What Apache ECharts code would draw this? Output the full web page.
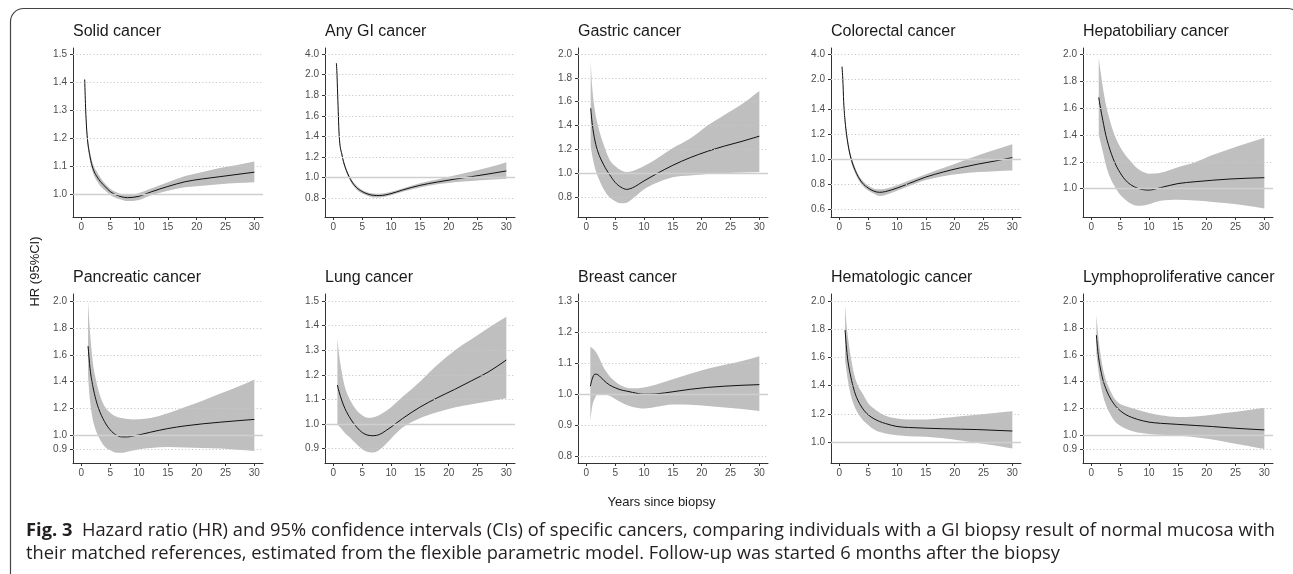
<!DOCTYPE html>
<html><head><meta charset="utf-8">
<script src="https://cdn.jsdelivr.net/npm/echarts@6/dist/echarts.min.js"></script>
<style>html,body{margin:0;padding:0;background:#fff;}#c{width:1293px;height:574px;}</style>
</head><body><div id="c"></div>
<script>
// ---------- data ----------
const xTicks = [0, 5, 10, 15, 20, 25, 30];

const solidT  = [0.58,0.75,1,1.5,2,3,4,5,6,7,8,10,12,15,18,21,24,27,30];
const solidHR = [1.41,1.30,1.21,1.135,1.093,1.054,1.03,1.01,0.998,0.991,0.988,0.993,1.008,1.028,1.045,1.055,1.063,1.071,1.079];
const solidLo = [1.40,1.29,1.195,1.12,1.078,1.038,1.015,0.998,0.987,0.981,0.976,0.98,0.996,1.013,1.025,1.031,1.036,1.04,1.043];
const solidHi = [1.42,1.31,1.225,1.15,1.11,1.07,1.04,1.02,1.008,1.001,0.999,1.005,1.02,1.043,1.065,1.08,1.094,1.105,1.117];
const solidTicks = [1.0,1.1,1.2,1.3,1.4,1.5];

const anyT  = [0.52,0.6,0.75,1,1.5,2,3,4,5,6,7,8,10,12,15,18,21,24,27,30];
const anyHR = [3.1,2.4,1.8,1.42,1.22,1.11,0.98,0.905,0.865,0.84,0.828,0.826,0.845,0.88,0.925,0.957,0.985,1.01,1.037,1.065];
const anyLo = [3.05,2.35,1.77,1.39,1.2,1.09,0.96,0.885,0.845,0.822,0.808,0.808,0.828,0.862,0.905,0.935,0.955,0.968,0.98,0.99];
const anyHi = [3.15,2.45,1.83,1.45,1.24,1.13,1.0,0.925,0.88,0.855,0.845,0.843,0.862,0.895,0.945,0.982,1.02,1.06,1.1,1.15];
const anyTicks = [0.8,1.0,1.2,1.4,1.6,1.8,2.0,4.0];
const anyTickPos = [0.8,1.0,1.2,1.4,1.6,1.8,2.0,2.2];

const gasT  = [0.75,1,1.5,2,3,4,5,6,7,8,10,12,15,18,21,24,27,30];
const gasHR = [1.544,1.42,1.27,1.18,1.07,0.99,0.922,0.882,0.864,0.877,0.935,0.99,1.066,1.13,1.183,1.228,1.267,1.31];
const gasLo = [1.23,1.15,1.04,0.97,0.865,0.8,0.765,0.748,0.752,0.785,0.865,0.915,0.965,0.98,0.993,1.0,1.005,1.01];
const gasHi = [1.94,1.73,1.52,1.40,1.24,1.115,1.06,1.025,1.01,1.018,1.06,1.115,1.21,1.29,1.40,1.49,1.58,1.69];
const gasTicks = [0.8,1.0,1.2,1.4,1.6,1.8,2.0];

const colT  = [0.46,0.6,0.75,1,1.5,2,3,4,5,6,7,8,10,12,15,18,21,24,27,30];
const colHR = [3.0,2.0,1.55,1.3,1.12,1.01,0.885,0.81,0.77,0.745,0.736,0.742,0.77,0.805,0.858,0.898,0.932,0.961,0.986,1.013];
const colLo = [2.95,1.95,1.52,1.27,1.095,0.985,0.862,0.79,0.75,0.725,0.707,0.715,0.748,0.785,0.835,0.865,0.885,0.898,0.905,0.91];
const colHi = [3.05,2.05,1.58,1.33,1.145,1.035,0.905,0.83,0.79,0.765,0.76,0.765,0.792,0.828,0.88,0.93,0.98,1.03,1.075,1.12];
const colTicks = [0.6,0.8,1.0,1.2,1.4,2.0,4.0];
const colTickPos = [0.6,0.8,1.0,1.2,1.4,1.638,1.84];

const hepT  = [1.28,1.5,2,2.5,3,4,5,6,7,8,9,10,12,15,18,21,24,27,30];
const hepHR = [1.678,1.62,1.505,1.40,1.32,1.20,1.118,1.06,1.025,1.004,0.993,0.99,1.008,1.038,1.052,1.063,1.072,1.078,1.082];
const hepLo = [1.40,1.36,1.27,1.18,1.11,1.02,0.955,0.915,0.886,0.874,0.876,0.885,0.91,0.918,0.912,0.902,0.89,0.873,0.854];
const hepHi = [1.97,1.9,1.75,1.63,1.54,1.40,1.31,1.245,1.195,1.15,1.124,1.112,1.118,1.16,1.197,1.25,1.295,1.338,1.379];
const hepTicks = [1.0,1.2,1.4,1.6,1.8,2.0];

const panT  = [1.16,1.5,2,2.5,3,4,5,6,7,8,9,10,12,15,18,21,24,27,30];
const panHR = [1.665,1.50,1.365,1.27,1.20,1.105,1.042,1.005,0.99,0.99,0.997,1.005,1.025,1.052,1.072,1.087,1.099,1.11,1.12];
const panLo = [1.44,1.26,1.115,1.04,0.99,0.92,0.89,0.873,0.872,0.88,0.888,0.898,0.908,0.914,0.911,0.908,0.903,0.895,0.886];
const panHi = [1.995,1.77,1.54,1.42,1.33,1.22,1.17,1.142,1.13,1.123,1.12,1.121,1.13,1.165,1.212,1.258,1.31,1.36,1.417];
const panTicks = [0.9,1.0,1.2,1.4,1.6,1.8,2.0];

const lunT  = [0.7,1,1.5,2,3,4,5,6,7,8,9,10,12,15,18,21,24,27,30];
const lunHR = [1.158,1.13,1.093,1.063,1.02,0.988,0.965,0.954,0.952,0.957,0.971,0.987,1.022,1.068,1.106,1.14,1.176,1.213,1.26];
const lunLo = [0.999,0.99,0.977,0.963,0.942,0.918,0.897,0.886,0.884,0.895,0.915,0.94,0.985,1.023,1.047,1.067,1.08,1.092,1.104];
const lunHi = [1.348,1.28,1.205,1.15,1.093,1.057,1.035,1.025,1.027,1.036,1.05,1.068,1.11,1.172,1.24,1.298,1.345,1.392,1.436];
const lunTicks = [0.9,1.0,1.1,1.2,1.3,1.4,1.5];

const brT  = [0.69,1,1.5,2,3,4,5,6,7,8,10,12,15,18,21,24,27,30];
const brHR = [1.025,1.048,1.064,1.062,1.044,1.029,1.02,1.013,1.009,1.005,0.999,1.0,1.007,1.015,1.021,1.025,1.028,1.03];
const brLo = [0.915,0.958,0.987,0.999,1.0,0.994,0.984,0.973,0.964,0.958,0.953,0.958,0.966,0.965,0.961,0.956,0.951,0.945];
const brHi = [1.152,1.148,1.139,1.125,1.085,1.058,1.04,1.027,1.02,1.018,1.021,1.03,1.047,1.065,1.081,1.094,1.106,1.122];
const brTicks = [0.8,0.9,1.0,1.1,1.2,1.3];

const hemT  = [0.99,1.25,1.5,2,2.5,3,4,5,6,7,8,10,12,15,18,21,24,27,30];
const hemHR = [1.794,1.66,1.57,1.46,1.375,1.315,1.24,1.193,1.165,1.145,1.131,1.11,1.103,1.098,1.094,1.091,1.088,1.083,1.078];
const hemLo = [1.58,1.5,1.43,1.33,1.265,1.22,1.16,1.12,1.088,1.071,1.061,1.047,1.041,1.037,1.026,1.01,0.993,0.975,0.953];
const hemHi = [1.97,1.83,1.74,1.60,1.49,1.42,1.345,1.275,1.237,1.207,1.186,1.166,1.16,1.16,1.17,1.183,1.194,1.206,1.218];
const hemTicks = [1.0,1.2,1.4,1.6,1.8,2.0];

const lyT  = [0.87,1,1.25,1.5,2,2.5,3,4,5,6,7,8,10,12,15,18,21,24,27,30];
const lyHR = [1.746,1.68,1.58,1.515,1.415,1.35,1.3,1.23,1.185,1.155,1.135,1.12,1.1,1.091,1.083,1.075,1.067,1.057,1.049,1.042];
const lyLo = [1.61,1.56,1.47,1.40,1.3,1.23,1.18,1.11,1.072,1.05,1.033,1.022,1.012,1.006,1.0,0.988,0.97,0.947,0.925,0.90];
const lyHi = [1.896,1.83,1.72,1.63,1.5,1.415,1.36,1.275,1.235,1.218,1.205,1.192,1.168,1.15,1.138,1.142,1.155,1.171,1.188,1.206];
const lyTicks = [0.9,1.0,1.2,1.4,1.6,1.8,2.0];

// ---------- panels ----------
const panels = [
  {title:'Solid cancer', t:solidT, hr:solidHR, lo:solidLo, hi:solidHi, ticks:solidTicks, pos:null, min:0.919, max:1.5225},
  {title:'Any GI cancer', t:anyT, hr:anyHR, lo:anyLo, hi:anyHi, ticks:anyTicks, pos:anyTickPos, min:0.618, max:2.258},
  {title:'Gastric cancer', t:gasT, hr:gasHR, lo:gasLo, hi:gasHi, ticks:gasTicks, pos:null, min:0.632, max:2.05},
  {title:'Colorectal cancer', t:colT, hr:colHR, lo:colLo, hi:colHi, ticks:colTicks, pos:colTickPos, min:0.539, max:1.888},
  {title:'Hepatobiliary cancer', t:hepT, hr:hepHR, lo:hepLo, hi:hepHi, ticks:hepTicks, pos:null, min:0.79, max:2.045},
  {title:'Pancreatic cancer', t:panT, hr:panHR, lo:panLo, hi:panHi, ticks:panTicks, pos:null, min:0.796, max:2.052},
  {title:'Lung cancer', t:lunT, hr:lunHR, lo:lunLo, hi:lunHi, ticks:lunTicks, pos:null, min:0.841, max:1.5285},
  {title:'Breast cancer', t:brT, hr:brHR, lo:brLo, hi:brHi, ticks:brTicks, pos:null, min:0.777, max:1.3226},
  {title:'Hematologic cancer', t:hemT, hr:hemHR, lo:hemLo, hi:hemHi, ticks:hemTicks, pos:null, min:0.851, max:2.05},
  {title:'Lymphoproliferative cancer', t:lyT, hr:lyHR, lo:lyLo, hi:lyHi, ticks:lyTicks, pos:null, min:0.796, max:2.052}
];

function makeMap(vals, pos) {
  if (!pos) return v => v;
  return v => {
    let i = 0;
    if (v <= vals[0]) i = 0;
    else if (v >= vals[vals.length - 1]) i = vals.length - 2;
    else { while (i < vals.length - 2 && v > vals[i + 1]) i++; }
    const f = (v - vals[i]) / (vals[i + 1] - vals[i]);
    return pos[i] + f * (pos[i + 1] - pos[i]);
  };
}

// monotone cubic (Fritsch-Carlson) bezier segments through pixel points
function monoSegs(p) {
  const n = p.length, m = [], tg = [];
  for (let k = 0; k < n - 1; k++) {
    const dx = p[k + 1][0] - p[k][0];
    m.push(dx === 0 ? 0 : (p[k + 1][1] - p[k][1]) / dx);
  }
  tg[0] = m[0]; tg[n - 1] = m[n - 2];
  for (let k = 1; k < n - 1; k++) tg[k] = (m[k - 1] * m[k] <= 0) ? 0 : (m[k - 1] + m[k]) / 2;
  for (let k = 0; k < n - 1; k++) {
    if (m[k] === 0) { tg[k] = 0; tg[k + 1] = 0; continue; }
    const a = tg[k] / m[k], b = tg[k + 1] / m[k], s = a * a + b * b;
    if (s > 9) { const tau = 3 / Math.sqrt(s); tg[k] = tau * a * m[k]; tg[k + 1] = tau * b * m[k]; }
  }
  const segs = [];
  for (let k = 0; k < n - 1; k++) {
    const dx = p[k + 1][0] - p[k][0];
    segs.push([p[k], [p[k][0] + dx / 3, p[k][1] + tg[k] * dx / 3], [p[k + 1][0] - dx / 3, p[k + 1][1] - tg[k + 1] * dx / 3], p[k + 1]]);
  }
  return segs;
}
const P = q => q[0].toFixed(2) + ' ' + q[1].toFixed(2);
function bandRender(params, api) {
  if (params.dataIndexInside !== 0) return null;
  const n = params.dataInsideLength, lo = [], hi = [];
  for (let k = 0; k < n; k++) {
    lo.push(api.coord([api.value(0, k), api.value(1, k)]));
    hi.push(api.coord([api.value(0, k), api.value(2, k)]));
  }
  let d = 'M' + P(lo[0]);
  monoSegs(lo).forEach(s => { d += ' C' + P(s[1]) + ' ' + P(s[2]) + ' ' + P(s[3]); });
  d += ' L' + P(hi[n - 1]);
  monoSegs(hi).reverse().forEach(s => { d += ' C' + P(s[2]) + ' ' + P(s[1]) + ' ' + P(s[0]); });
  d += ' Z';
  return {type: 'path', shape: {pathData: d}, style: {fill: '#bfbfbf', stroke: null}};
}
function lineRender(params, api) {
  if (params.dataIndexInside !== 0) return null;
  const n = params.dataInsideLength, pts = [];
  for (let k = 0; k < n; k++) pts.push(api.coord([api.value(0, k), api.value(1, k)]));
  let d = 'M' + P(pts[0]);
  monoSegs(pts).forEach(s => { d += ' C' + P(s[1]) + ' ' + P(s[2]) + ' ' + P(s[3]); });
  return {type: 'path', shape: {pathData: d}, style: {fill: null, stroke: '#111', lineWidth: 1}};
}

const colLeft = [73, 325, 578, 831, 1083];
const rowTop = [48, 294];
const gw = 190, gh = 169;
const FONT = '"Liberation Sans", Arial, sans-serif';

const grids = [], xAxes = [], yAxes = [], series = [], graphics = [];
panels.forEach((p, i) => {
  const r = Math.floor(i / 5), c = i % 5;
  const f = makeMap(p.ticks, p.pos);
  const tickPos = p.ticks.map(f);
  grids.push({left: colLeft[c], top: rowTop[r], width: gw, height: gh});
  xAxes.push({
    type: 'value', gridIndex: i, min: -1.45, max: 31.5,
    axisLine: {show: true, onZero: false, lineStyle: {color: '#333', width: 1}},
    axisTick: {show: true, customValues: xTicks, length: 3, lineStyle: {color: '#333'}},
    axisLabel: {customValues: xTicks, fontSize: 10, color: '#4d4d4d', margin: 5, fontFamily: FONT},
    splitLine: {show: false}
  });
  yAxes.push({
    type: 'value', gridIndex: i, min: p.min, max: p.max,
    axisLine: {show: true, onZero: false, lineStyle: {color: '#333', width: 1}},
    axisTick: {show: true, customValues: tickPos, length: 3, lineStyle: {color: '#333'}},
    axisLabel: {
      customValues: tickPos, fontSize: 10, color: '#4d4d4d', margin: 6, fontFamily: FONT,
      formatter: v => {
        let k = 0, best = 1e9;
        tickPos.forEach((tp, j) => { const dd = Math.abs(tp - v); if (dd < best) { best = dd; k = j; } });
        return p.ticks[k].toFixed(1);
      }
    },
    splitLine: {show: false}
  });
  const mlData = p.ticks.map((v, j) => v === 1.0
    ? {yAxis: tickPos[j], lineStyle: {color: '#cfcfcf', type: 'solid', width: 1.3}}
    : {yAxis: tickPos[j], lineStyle: {color: '#c8c8c8', type: [1.2, 2.2], width: 1}});
  series.push({
    type: 'line', xAxisIndex: i, yAxisIndex: i, z: 1, symbol: 'none',
    data: [[0, f(1.0)]], lineStyle: {opacity: 0}, silent: true,
    markLine: {silent: true, symbol: ['none', 'none'], label: {show: false}, animation: false, data: mlData}
  });
  series.push({
    type: 'custom', xAxisIndex: i, yAxisIndex: i, z: 2, silent: true, clip: true,
    renderItem: bandRender,
    encode: {x: 0, y: [1, 2]},
    data: p.t.map((t, j) => [t, f(p.lo[j]), f(p.hi[j])])
  });
  series.push({
    type: 'custom', xAxisIndex: i, yAxisIndex: i, z: 3, silent: true, clip: true,
    renderItem: lineRender,
    encode: {x: 0, y: 1},
    data: p.t.map((t, j) => [t, f(p.hr[j])])
  });
  graphics.push({
    type: 'text', x: colLeft[c], y: r === 0 ? 31.2 : 277.7, silent: true,
    style: {text: p.title, fontSize: 16, fontFamily: FONT, fill: '#1a1a1a', verticalAlign: 'middle', align: 'left'}
  });
});

// border, axis titles, caption
graphics.push({type: 'rect', silent: true, z: -10,
  shape: {x: 10.5, y: 8.5, width: 1290, height: 700, r: 13},
  style: {fill: 'none', stroke: '#454545', lineWidth: 1.2}});
graphics.push({type: 'text', x: 661.5, y: 502.5, silent: true,
  style: {text: 'Years since biopsy', fontSize: 13, fontFamily: FONT, fill: '#1a1a1a', align: 'center', verticalAlign: 'middle'}});
graphics.push({type: 'text', x: 35, y: 271.5, rotation: Math.PI / 2, silent: true,
  style: {text: 'HR (95%CI)', fontSize: 13, fontFamily: FONT, fill: '#1a1a1a', align: 'center', verticalAlign: 'middle'}});

const capFont = '"Open Sans", "Noto Sans", sans-serif';
const capBold = 'Fig. 3';
const cap1 = '  Hazard ratio (HR) and 95% confidence intervals (CIs) of specific cancers, comparing individuals with a GI biopsy result of normal mucosa with';
const cap2 = 'their matched references, estimated from the flexible parametric model. Follow-up was started 6 months after the biopsy';
const ctx = document.createElement('canvas').getContext('2d');
ctx.font = 'bold 18px ' + capFont;
let w1 = ctx.measureText(capBold).width;
ctx.font = '18px ' + capFont;
w1 += ctx.measureText(cap1).width;
const sx = (1275 - 26) / w1;
graphics.push({type: 'text', x: 26, y: 530.4, scaleX: sx, silent: true,
  style: {text: '{b|' + capBold + '}' + cap1, fontSize: 18, fontFamily: capFont, fill: '#231f20', verticalAlign: 'middle', align: 'left',
    rich: {b: {fontSize: 18, fontFamily: capFont, fontWeight: 'bold', fill: '#231f20'}}}});
graphics.push({type: 'text', x: 26, y: 553.8, scaleX: sx, silent: true,
  style: {text: cap2, fontSize: 18, fontFamily: capFont, fill: '#231f20', verticalAlign: 'middle', align: 'left'}});

const chart = echarts.init(document.getElementById('c'), null, {renderer: 'canvas'});
chart.setOption({
  animation: false, backgroundColor: '#fff',
  grid: grids, xAxis: xAxes, yAxis: yAxes, series: series, graphic: graphics
});
</script></body></html>
